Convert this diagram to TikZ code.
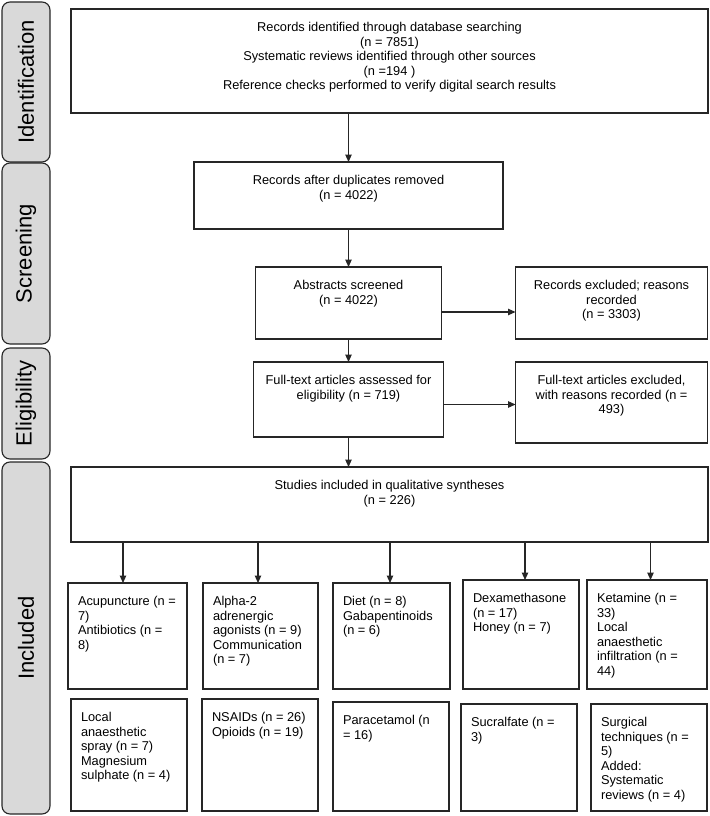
\documentclass[tikz,border=0pt]{standalone}
\usepackage{fontspec}
\setmainfont{Liberation Sans}
\usepackage{tikz}
\usetikzlibrary{arrows.meta}
\usetikzlibrary{positioning}
\def\ctext#1#2#3{\parbox[t][#2][t]{#1}{\centering\rule{0pt}{22.5pt}#3}}
\def\ltext#1#2#3{\parbox[t][#2][t]{#1}{\raggedright\rule{0pt}{22.5pt}#3}}

\begin{document}
\begin{tikzpicture}[->,>={Triangle[length=7.5pt,width=6.5pt]},x=1pt,y=-1pt,
			line width=1.1pt,draw=black!85]
			\tikzstyle{box}=[draw=black!85,rectangle,inner xsep=10pt,inner ysep=0pt,
				outer sep=0pt,font=\fontsize{12.8}{14.6}\selectfont]
			\tikzstyle{cbox}=[box,inner xsep=4pt]
			\tikzstyle{tab}=[draw=black!85,fill=black!15,rounded corners=8pt,rotate=90,
				minimum height=48pt,inner sep=0pt,font=\fontsize{22}{26}\selectfont]
			\useasboundingbox (0,0) rectangle (709,816);

			% phase tabs
			\node[tab, minimum width=160pt] (identification) at (26,82)    {Identification};
			\node[tab, minimum width=181pt] (screening)      at (26,253.5) {Screening};
			\node[tab, minimum width=111pt] (eligibility)    at (26,403.5) {Eligibility};
			\node[tab, minimum width=352pt] (included)       at (26,638)   {Included};

			% main column
			\node[cbox, anchor=north west] (main) at (71,9) {\ctext{629pt}{104pt}{Records identified through database searching\\(n = 7851)\\Systematic reviews identified through other sources\\(n =194 )\\Reference checks performed to verify digital search results}};
			\node[cbox] (dup)  [below=49pt of main, xshift=-41pt] {\ctext{301pt}{67pt}{Records after duplicates removed\\(n = 4022)}};
			\node[cbox] (abs)  [below=38pt of dup]  {\ctext{178pt}{72pt}{Abstracts screened\\(n = 4022)}};
			\node[cbox] (exa)  [right=74pt of abs]  {\ctext{184pt}{72pt}{Records excluded; reasons\\recorded\\(n = 3303)}};
			\node[cbox] (full) [below=23pt of abs]  {\ctext{182pt}{75pt}{Full-text articles assessed for\\eligibility (n = 719)}};
			\node[cbox] (exf)  [right=72pt of full.north east, anchor=north west] {\ctext{184pt}{81pt}{Full-text articles excluded,\\with reasons recorded (n =\\493)}};
			\node[cbox] (incl) [below=30pt of full, xshift=41pt] {\ctext{629pt}{75pt}{Studies included in qualitative syntheses\\(n = 226)}};

			% interventions, first row
			\node[box] (b1) [below=41pt of incl.south west, anchor=north west, xshift=-3pt] {\ltext{99pt}{106pt}{Acupuncture (n =\\7)\\Antibiotics (n =\\8)}};
			\node[box] (b2) [right=16pt of b1.north east, anchor=north west] {\ltext{95pt}{106pt}{Alpha-2\\adrenergic\\agonists (n = 9)\\Communication\\(n = 7)}};
			\node[box] (b3) [right=15pt of b2.north east, anchor=north west] {\ltext{97pt}{106pt}{Diet (n = 8)\\Gabapentinoids\\(n = 6)}};
			\node[box] (b4) [right=13pt of b3.north east, anchor=north west, yshift=3pt] {\ltext{96pt}{109pt}{Dexamethasone\\(n = 17)\\Honey (n = 7)}};
			\node[box] (b5) [right=8pt of b4.north east, anchor=north west] {\ltext{100pt}{109pt}{Ketamine (n =\\33)\\Local\\anaesthetic\\infiltration (n =\\44)}};

			% interventions, second row
			\node[box] (c1) [below=10pt of b1.south west, anchor=north west, xshift=3pt] {\ltext{96pt}{112pt}{Local\\anaesthetic\\spray (n = 7)\\Magnesium\\sulphate (n = 4)}};
			\node[box] (c2) [right=15pt of c1.north east, anchor=north west] {\ltext{96pt}{112pt}{NSAIDs (n = 26)\\Opioids (n = 19)}};
			\node[box] (c3) [right=15pt of c2.north east, anchor=north west, yshift=-3pt] {\ltext{96pt}{109pt}{Paracetamol (n\\= 16)}};
			\node[box] (c4) [right=12pt of c3.north east, anchor=north west, yshift=-2pt] {\ltext{96pt}{107pt}{Sucralfate (n =\\3)}};
			\node[box] (c5) [right=14pt of c4.north east, anchor=north west] {\ltext{96pt}{107pt}{Surgical\\techniques (n =\\5)\\Added:\\Systematic\\reviews (n = 4)}};

			\path
				(main.south -| dup) edge (dup)
				(dup) edge (abs)
				(abs) edge (full)
				([yshift=-9pt]abs.east) edge ([yshift=-9pt]abs.east -| exa.west)
				(full.south) edge (full.south |- incl.north)
				([yshift=-5pt]full.east) edge ([yshift=-5pt]full.east -| exf.west)
				([xshift=-4.5pt]incl.south -| b1) edge ([xshift=-4.5pt]b1.north)
				([xshift=-2.5pt]incl.south -| b2) edge ([xshift=-2.5pt]b2.north)
				([xshift=-1.5pt]incl.south -| b3) edge ([xshift=-1.5pt]b3.north)
				([xshift=4pt]incl.south -| b4) edge ([xshift=4pt]b4.north)
				([xshift=3.5pt]incl.south -| b5) edge ([xshift=3.5pt]b5.north)
			;
\end{tikzpicture}
\end{document}
